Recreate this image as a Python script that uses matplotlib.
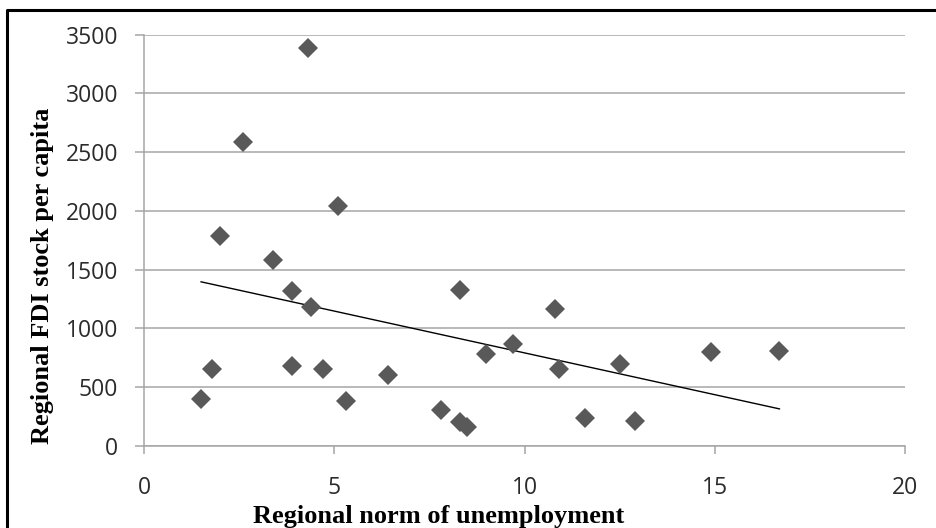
import numpy as np
import matplotlib.pyplot as plt
from matplotlib.lines import Line2D

# regional unemployment norm (%) and FDI stock per capita
unemployment = [1.5, 1.8, 2.0, 2.6, 3.4, 3.9, 3.9, 4.3, 4.4, 4.7, 5.1, 5.3, 6.4,
                7.8, 8.3, 8.3, 8.5, 9.0, 9.7, 10.8, 10.9, 11.6, 12.5, 12.9, 14.9, 16.7]
fdi_per_capita = [400, 650, 1785, 2590, 1585, 1320, 675, 3390, 1180, 650, 2045, 380, 600,
                  305, 1330, 200, 155, 780, 865, 1160, 655, 240, 700, 210, 795, 805]

x_ticks = [0, 5, 10, 15, 20]
y_ticks = [0, 500, 1000, 1500, 2000, 2500, 3000, 3500]

W, H = 937, 528
fig = plt.figure(figsize=(W / 100, H / 100), dpi=100)
ax = fig.add_axes([144 / W, 1 - 445.7 / H, (905 - 144) / W, (445.7 - 34.7) / H])

grid_col = '#a6a6a6'
ax.set_xlim(0, 20)
ax.set_ylim(0, 3500)
ax.set_xticks(x_ticks)
ax.set_yticks(y_ticks)
ax.yaxis.grid(True, color=grid_col, linewidth=1.1)
ax.set_axisbelow(True)
for s in ['top', 'right']:
    ax.spines[s].set_visible(False)
for s in ['left', 'bottom']:
    ax.spines[s].set_color(grid_col)
    ax.spines[s].set_linewidth(1.1)

ax.tick_params(axis='y', direction='out', length=6.5, width=1.1, color=grid_col,
               pad=12, labelsize=16.5, labelcolor='#2b2b2b')
ax.tick_params(axis='x', direction='out', length=5.8, width=1.1, color=grid_col,
               pad=16, labelsize=16.5, labelcolor='#2b2b2b')
for lab in ax.get_xticklabels() + ax.get_yticklabels():
    lab.set_fontfamily('Open Sans')

ax.plot(unemployment, fdi_per_capita, linestyle='none', marker='D', markersize=10.5,
        color='#595959', markeredgewidth=0, zorder=3)

# linear trend line across the observed range
slope, intercept = np.polyfit(unemployment, fdi_per_capita, 1)
xs = np.array([min(unemployment), max(unemployment)])
ax.plot(xs, slope * xs + intercept, color='black', linewidth=1.0, zorder=2)

fig.text(439 / W, 1 - 523 / H, 'Regional norm of unemployment', ha='center', va='baseline',
         family='Liberation Serif', weight='bold', fontsize=19)
fig.text(43 / W, 1 - 276 / H, 'Regional FDI stock per capita', ha='center', va='center',
         rotation=90, family='Liberation Serif', weight='bold', fontsize=19)

# outer frame (left and top edges)
fig.add_artist(Line2D([7 / W, 7 / W, 1.0], [0.0, 1 - 10 / H, 1 - 10 / H],
                      transform=fig.transFigure, color='black', linewidth=2.2))

fig.savefig('out.png', dpi=100)
